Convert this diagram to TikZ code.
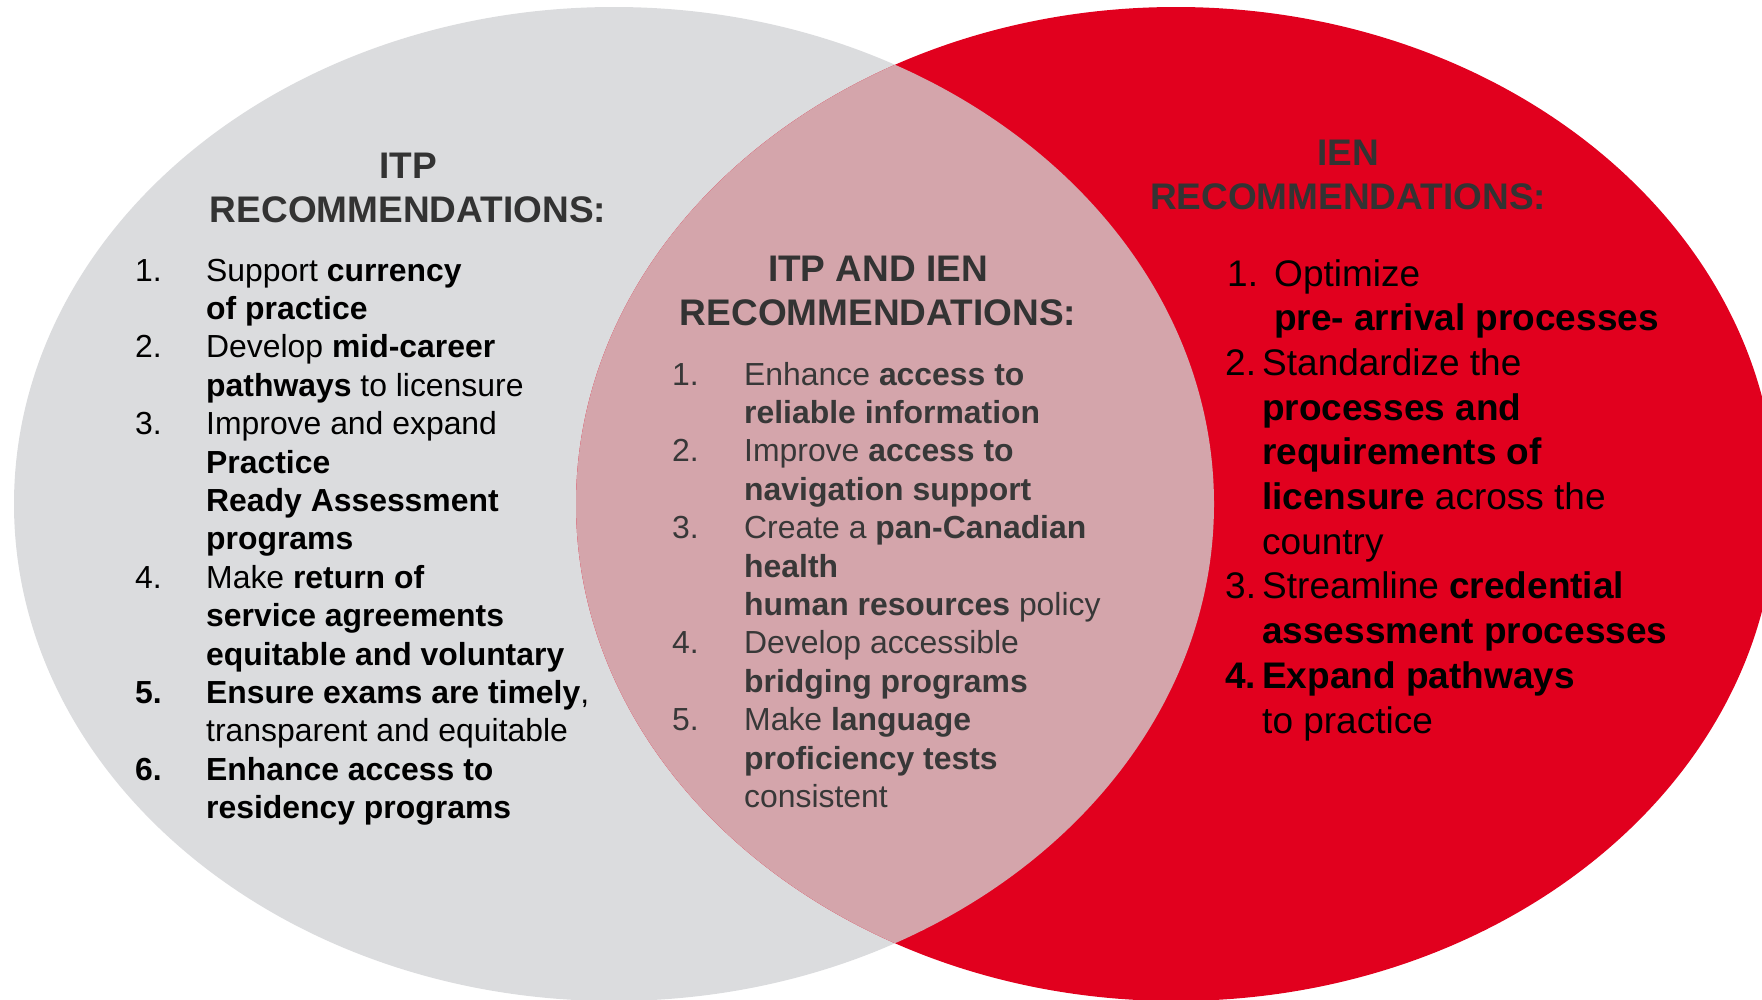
\documentclass[tikz,border=0pt]{standalone}
\usepackage{fontspec}
\setmainfont{Liberation Sans}
\definecolor{itpgray}{HTML}{DBDCDE}
\definecolor{ienred}{HTML}{E1001E}
\definecolor{lenspink}{HTML}{D4A5AB}
\definecolor{titlegray}{HTML}{333333}
\definecolor{midtext}{HTML}{383838}
\begin{document}
\begin{tikzpicture}[x=1pt,y=-1pt,
  ttl/.style={anchor=base, inner sep=0pt, text=titlegray, font=\fontsize{37}{44}\selectfont\bfseries},
  ltxt/.style={anchor=base west, inner sep=0pt, text=black, font=\fontsize{31.9}{38}\selectfont},
  mtxt/.style={anchor=base west, inner sep=0pt, text=midtext, font=\fontsize{31.9}{38}\selectfont},
  rtxt/.style={anchor=base west, inner sep=0pt, text=black, font=\fontsize{37}{44}\selectfont}]
\useasboundingbox (0,0) rectangle (1762,999);
\clip (0,0) rectangle (1762,999);
% circles
\fill[itpgray] (614,504) ellipse [x radius=600pt, y radius=497pt];
\fill[ienred] (1176,504) ellipse [x radius=600pt, y radius=497pt];
\begin{scope}
  \clip (614,504) ellipse [x radius=600pt, y radius=497pt];
  \fill[lenspink] (1176,504) ellipse [x radius=600pt, y radius=497pt];
\end{scope}
% titles
\node[ttl] (lt1) at (408,178) {ITP};
\node[ttl] (lt2) at (408,222) {RECOMMENDATIONS:};
\node[ttl] (mt1) at (878,281) {ITP AND IEN};
\node[ttl] (mt2) at (878,325) {RECOMMENDATIONS:};
\node[ttl] (rt1) at (1348,165) {IEN};
\node[ttl] (rt2) at (1348,209) {RECOMMENDATIONS:};
% left list
\node[ltxt] (ln1) at (135,281) {1.};
\node[ltxt] (l0) at (206,281) {Support \textbf{currency}};
\node[ltxt] (l1) at (206,319.4) {\textbf{of practice}};
\node[ltxt] (ln2) at (135,357.8) {2.};
\node[ltxt] (l2) at (206,357.8) {Develop \textbf{mid-career}};
\node[ltxt] (l3) at (206,396.2) {\textbf{pathways} to licensure};
\node[ltxt] (ln3) at (135,434.6) {3.};
\node[ltxt] (l4) at (206,434.6) {Improve and expand};
\node[ltxt] (l5) at (206,473) {\textbf{Practice}};
\node[ltxt] (l6) at (206,511.4) {\textbf{Ready Assessment}};
\node[ltxt] (l7) at (206,549.8) {\textbf{programs}};
\node[ltxt] (ln4) at (135,588.2) {4.};
\node[ltxt] (l8) at (206,588.2) {Make \textbf{return of}};
\node[ltxt] (l9) at (206,626.6) {\textbf{service agreements}};
\node[ltxt] (l10) at (206,665) {\textbf{equitable and voluntary}};
\node[ltxt] (ln5) at (135,703.4) {\textbf{5.}};
\node[ltxt] (l11) at (206,703.4) {\textbf{Ensure exams are timely},};
\node[ltxt] (l12) at (206,741.8) {transparent and equitable};
\node[ltxt] (ln6) at (135,780.2) {\textbf{6.}};
\node[ltxt] (l13) at (206,780.2) {\textbf{Enhance access to}};
\node[ltxt] (l14) at (206,818.6) {\textbf{residency programs}};
% middle list
\node[mtxt] (mn1) at (672,385) {1.};
\node[mtxt] (m0) at (744,385) {Enhance \textbf{access to}};
\node[mtxt] (m1) at (744,423.4) {\textbf{reliable information}};
\node[mtxt] (mn2) at (672,461.8) {2.};
\node[mtxt] (m2) at (744,461.8) {Improve \textbf{access to}};
\node[mtxt] (m3) at (744,500.2) {\textbf{navigation support}};
\node[mtxt] (mn3) at (672,538.6) {3.};
\node[mtxt] (m4) at (744,538.6) {Create a \textbf{pan-Canadian}};
\node[mtxt] (m5) at (744,577) {\textbf{health}};
\node[mtxt] (m6) at (744,615.4) {\textbf{human resources} policy};
\node[mtxt] (mn4) at (672,653.8) {4.};
\node[mtxt] (m7) at (744,653.8) {Develop accessible};
\node[mtxt] (m8) at (744,692.2) {\textbf{bridging programs}};
\node[mtxt] (mn5) at (672,730.6) {5.};
\node[mtxt] (m9) at (744,730.6) {Make \textbf{language}};
\node[mtxt] (m10) at (744,769) {\textbf{proficiency tests}};
\node[mtxt] (m11) at (744,807.4) {consistent};
% right list
\node[rtxt] (rn1) at (1227,286) {1.};
\node[rtxt] (r0) at (1274,286) {Optimize};
\node[rtxt] (r1) at (1274,330.7) {\textbf{pre- arrival processes}};
\node[rtxt] (rn2) at (1225,375.4) {2.};
\node[rtxt] (r2) at (1262,375.4) {Standardize the};
\node[rtxt] (r3) at (1262,420.1) {\textbf{processes and}};
\node[rtxt] (r4) at (1262,464.8) {\textbf{requirements of}};
\node[rtxt] (r5) at (1262,509.5) {\textbf{licensure} across the};
\node[rtxt] (r6) at (1262,554.2) {country};
\node[rtxt] (rn3) at (1225,598.9) {3.};
\node[rtxt] (r7) at (1262,598.9) {Streamline \textbf{credential}};
\node[rtxt] (r8) at (1262,643.6) {\textbf{assessment processes}};
\node[rtxt] (rn4) at (1225,688.3) {\textbf{4.}};
\node[rtxt] (r9) at (1262,688.3) {\textbf{Expand pathways}};
\node[rtxt] (r10) at (1262,733) {to practice};
\end{tikzpicture}
\end{document}
